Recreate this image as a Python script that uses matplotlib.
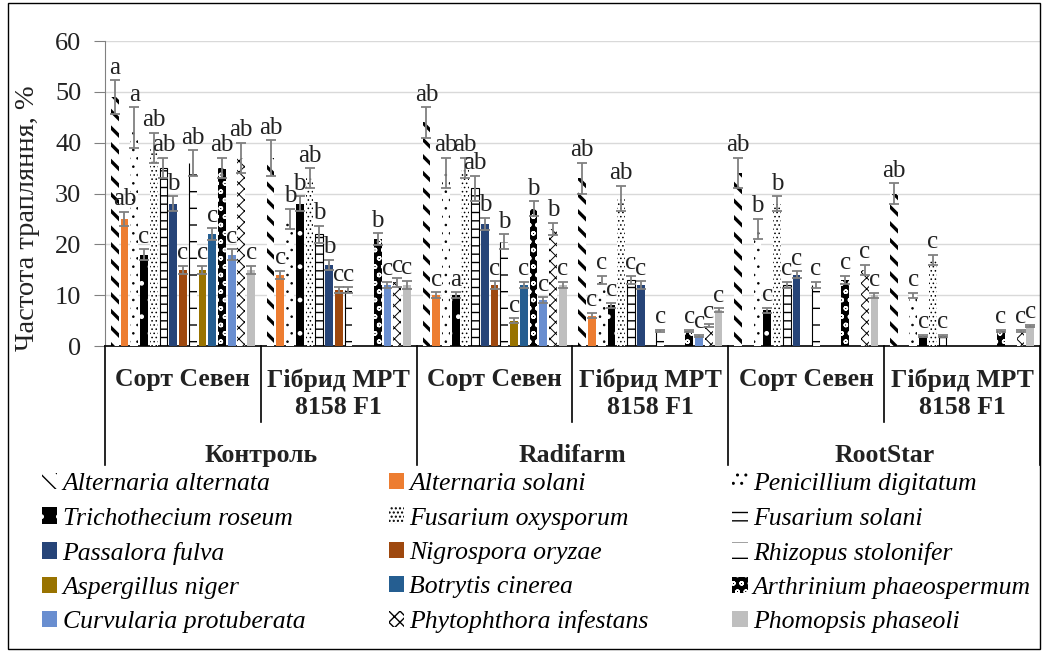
"""Частота трапляння грибів: контроль / Radifarm / RootStar"""
import numpy as np
import matplotlib
matplotlib.use("Agg")
import matplotlib.pyplot as plt
from matplotlib.patches import Rectangle, Patch

plt.rcParams['font.family'] = ['Liberation Serif', 'DejaVu Serif']
plt.rcParams['hatch.linewidth'] = 1.0

species = ['Alternaria alternata', 'Alternaria solani', 'Penicillium digitatum',
           'Trichothecium roseum', 'Fusarium oxysporum', 'Fusarium solani',
           'Passalora fulva', 'Nigrospora oryzae', 'Rhizopus stolonifer',
           'Aspergillus niger', 'Botrytis cinerea', 'Arthrinium phaeospermum',
           'Curvularia protuberata', 'Phytophthora infestans', 'Phomopsis phaseoli']
treatments = ['Контроль', 'Radifarm', 'RootStar']
varieties = ['Сорт Севен', 'Гібрид МРТ\n8158 F1']

# значення по групах (порядок як у species)
ctrl_seven = [49, 25, 43, 18, 39, 35, 28, 15, 36, 15, 22, 35, 18, 37, 15]
ctrl_hybrid = [37, 14, 25, 28, 33, 22, 16, 11, 11, 0, 0, 21, 12, 12.5, 12]
radi_seven = [44, 10, 34, 10, 35, 31, 24, 12, 20.5, 5, 12, 27, 9, 23, 12]
radi_hybrid = [33, 6, 13, 8, 29, 13, 12, 0, 3, 0, 0, 3, 2, 4, 7]
root_seven = [34, 0, 23, 7, 28, 12, 14, 0, 12, 0, 0, 13, 0, 15, 10]
root_hybrid = [30, 0, 10, 2, 17, 2, 0, 0, 0, 0, 0, 3, 0, 3, 4]

ctrl_seven_err = [3.3, 1.4, 4, 1, 3, 2, 1.5, 0.8, 2.5, 0.8, 1.2, 2, 1, 3, 0.8]
ctrl_hybrid_err = [3.5, 0.8, 2, 1.5, 2, 1.7, 1, 0.6, 0.6, 0, 0, 1.2, 0.6, 0.8, 0.8]
radi_seven_err = [3, 0.6, 3, 0.6, 2, 2.5, 1.2, 0.7, 1.5, 0.5, 0.6, 1.5, 0.6, 1.2, 0.6]
radi_hybrid_err = [3, 0.5, 0.8, 0.5, 2.5, 0.8, 0.7, 0, 0.2, 0, 0, 0.2, 0.2, 0.3, 0.4]
root_seven_err = [3, 0, 2, 0.5, 1.5, 0.6, 0.7, 0, 0.6, 0, 0, 0.8, 0, 1, 0.5]
root_hybrid_err = [2, 0, 0.5, 0.2, 1, 0.2, 0, 0, 0, 0, 0, 0.2, 0, 0.2, 0.2]

ctrl_seven_lab = ['a', 'ab', 'a', 'c', 'ab', 'ab', 'b', 'c', 'ab', 'c', 'c', 'ab', 'c', 'ab', 'c']
ctrl_hybrid_lab = ['ab', 'c', 'b', 'b', 'ab', 'b', 'b', 'c', 'c', '', '', 'b', 'c', 'c', 'c']
radi_seven_lab = ['ab', 'c', 'ab', 'a', 'ab', 'ab', 'b', 'c', 'b', 'c', 'c', 'b', 'c', 'b', 'c']
radi_hybrid_lab = ['ab', 'c', 'c', 'c', 'ab', 'c', 'c', '', 'c', '', '', 'c', 'c', 'c', 'c']
root_seven_lab = ['ab', '', 'b', 'c', 'b', 'c', 'c', '', 'c', '', '', 'c', '', 'c', 'c']
root_hybrid_lab = ['ab', '', 'c', 'c', 'c', 'c', '', '', '', '', '', 'c', '', 'c', 'c']

groups = [ctrl_seven, ctrl_hybrid, radi_seven, radi_hybrid, root_seven, root_hybrid]
errors = [ctrl_seven_err, ctrl_hybrid_err, radi_seven_err, radi_hybrid_err,
          root_seven_err, root_hybrid_err]
letters = [ctrl_seven_lab, ctrl_hybrid_lab, radi_seven_lab, radi_hybrid_lab,
           root_seven_lab, root_hybrid_lab]

# (заливка, колір штрихування, штрихування, товщина контуру, товщина штриха)
styles = [
    ('white', 'black', '\\\\', 0, 2.4),
    ('#ED7D31', '#ED7D31', None, 0, 1),
    ('white', 'black', '..', 0, 0.6),
    ('black', 'white', '.', 0, 1),
    ('white', 'black', '....', 0, 0.6),
    ('white', 'black', '--', 0.8, 1),
    ('#264478', '#264478', None, 0, 1),
    ('#9E480E', '#9E480E', None, 0, 1),
    ('white', 'black', '-', 0, 1),
    ('#997300', '#997300', None, 0, 1),
    ('#255E91', '#255E91', None, 0, 1),
    ('black', 'white', 'oo', 0, 1),
    ('#698ED0', '#698ED0', None, 0, 1),
    ('white', 'black', 'xxx', 0, 0.7),
    ('#BFBFBF', '#BFBFBF', None, 0, 1),
]

fig = plt.figure(figsize=(10.43, 6.52), dpi=100)
ax = fig.add_axes([105 / 1043, 1 - 346 / 652, 935 / 1043, 305 / 652])

n = len(species)
slot = 1 / 16
width = 0.8 * slot
centers = np.arange(len(groups))

for i in range(n):
    fc, hc, hatch, lw, hlw = styles[i]
    vals = np.array([g[i] for g in groups], dtype=float)
    errs = np.array([e[i] for e in errors], dtype=float)
    xs = centers + (i - 7) * slot
    bars = ax.bar(xs, vals, width, color=fc, edgecolor=hc, hatch=hatch,
                  linewidth=lw, zorder=3)
    for b in bars:
        if hasattr(b, 'set_hatch_linewidth'):
            b.set_hatch_linewidth(hlw)
    if i == 8:
        # у Rhizopus видно лише лівий край стовпчика
        ax.vlines(xs - width / 2, 0, vals, color='black', lw=0.8, zorder=3)
    m = vals > 0
    ax.errorbar(xs[m], vals[m], yerr=errs[m], fmt='none', ecolor='#808080',
                elinewidth=1.3, capsize=3.5, capthick=1.3, zorder=4)
    for k in range(len(groups)):
        lab = letters[k][i]
        if lab:
            ax.text(xs[k], vals[k] + errs[k] + 0.3, lab, ha='center', va='bottom',
                    fontsize=18, color='#222222', zorder=5)

ax.set_xlim(-0.5, len(groups) - 0.5)
ax.set_ylim(0, 60)
ax.set_yticks(range(0, 61, 10))
ax.yaxis.grid(True, color='#d9d9d9', lw=1)
ax.set_axisbelow(True)
ax.set_xticks([])
ax.tick_params(axis='y', direction='out', length=8, color='#808080',
               labelsize=19, labelcolor='#222222', pad=9)
for s in ['top', 'right']:
    ax.spines[s].set_visible(False)
ax.spines['left'].set_color('#808080')
ax.spines['bottom'].set_color('black')
ax.spines['bottom'].set_linewidth(1.2)
ax.set_ylabel('Частота трапляння, %', fontsize=20.5, color='#222222')
ax.yaxis.set_label_coords(-0.07, 0.42)

# таблиця категорій під віссю
tr = ax.get_xaxis_transform()
for x in [-0.5, 1.5, 3.5, 5.5]:
    ax.plot([x, x], [0, -0.39], transform=tr, clip_on=False, color='black', lw=1.2)
for x in [0.5, 2.5, 4.5]:
    ax.plot([x, x], [0, -0.25], transform=tr, clip_on=False, color='black', lw=1.2)
for k in range(len(groups)):
    ax.text(k, -0.073, varieties[k % 2], transform=tr, ha='center', va='top',
            fontsize=18.5, fontweight='bold', color='#222222', linespacing=1.25)
for t, name in enumerate(treatments):
    ax.text(2 * t + 0.5, -0.36, name, transform=tr, ha='center', va='center',
            fontsize=18.5, fontweight='bold', color='#222222')

# легенда (рядками, як в оригіналі)
handles = []
for i in range(n):
    fc, hc, hatch, lw, hlw = styles[i]
    handles.append(Patch(facecolor=fc, edgecolor=hc, hatch=hatch, linewidth=0,
                         label=species[i]))
order = [0, 3, 6, 9, 12, 1, 4, 7, 10, 13, 2, 5, 8, 11, 14]
fig.legend([handles[j] for j in order], [species[j] for j in order],
           loc='upper left', bbox_to_anchor=(42 / 1043, 1 - 473 / 652), ncol=3,
           frameon=False, prop={'style': 'italic', 'size': 18.5},
           handlelength=0.6, handleheight=0.6, handletextpad=0.2,
           columnspacing=3.25, labelspacing=0.47, borderaxespad=0, borderpad=0)

fig.patches.append(Rectangle((8 / 1043, 3 / 652), 1032 / 1043, 646 / 652,
                             transform=fig.transFigure, fill=False,
                             edgecolor='black', lw=1))

fig.savefig('out.png', dpi=100)
